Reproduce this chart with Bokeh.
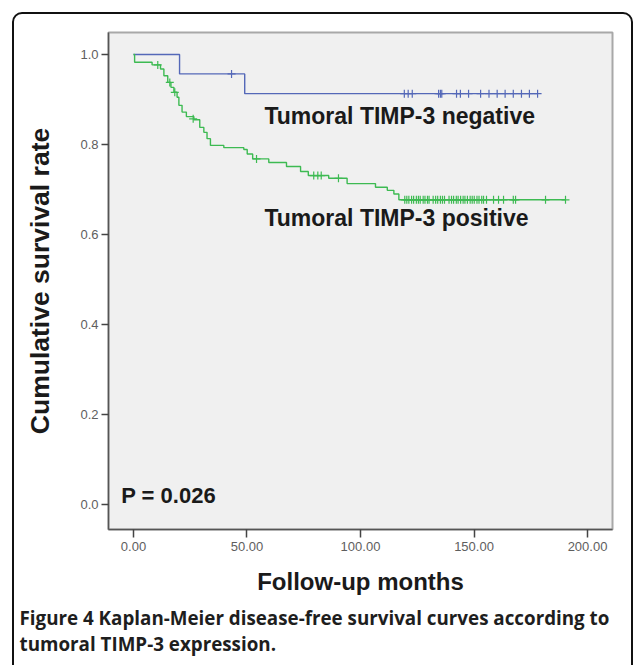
from bokeh.plotting import figure
from bokeh.models import (Label, Title, Range1d, FixedTicker, NumeralTickFormatter,
                          InlineStyleSheet)
from bokeh.embed import file_html
from bokeh.resources import INLINE

# ---------------- data ----------------
neg_times = [0.0, 20.3, 49.0, 178.0]
neg_surv = [1.0, 0.957, 0.913, 0.913]
neg_cens_t = [43.2, 119.3, 121.0, 122.8, 134.4, 135.2, 135.8, 142.3, 144.0, 147.6,
              152.9, 156.6, 160.2, 163.7, 167.3, 170.9, 174.4, 178.0]
neg_cens_s = [0.957] + [0.913] * 17

pos_times = [0.0, 0.5, 8.2, 11.9, 13.4, 15.1, 16.5, 17.8, 19.2, 20.0, 21.4, 23.3, 26.6,
             29.2, 31.0, 32.4, 33.9, 39.8, 48.6, 50.1, 52.5, 59.6, 67.4, 73.6,
             77.0, 86.0, 94.1, 106.6, 111.8, 114.7, 116.9, 190.3]
pos_surv = [1.0, 0.983, 0.977, 0.968, 0.953, 0.938, 0.927, 0.916, 0.905, 0.887, 0.872,
            0.862, 0.855, 0.838, 0.827, 0.813, 0.798, 0.793, 0.789, 0.779, 0.768, 0.760,
            0.751, 0.740, 0.731, 0.725, 0.713, 0.705, 0.698, 0.690, 0.677, 0.677]
pos_cens_t = [10.7, 16.0, 18.2, 26.3, 54.2, 79.4, 81.2, 82.7, 90.3,
              119.5, 120.4, 121.3, 122.5, 123.4, 124.6, 125.5, 126.3, 127.6, 128.4,
              129.5, 130.2, 132.0, 133.1, 134.0, 135.2, 136.1, 137.0, 139.0, 140.1,
              141.0, 142.2, 143.0, 144.1, 145.2, 146.0, 147.1, 148.3, 149.2, 150.1,
              151.3, 152.2, 153.4, 154.2, 155.5, 158.6, 160.8, 163.0, 167.3, 168.3,
              181.5, 190.3]
pos_cens_s = [0.977, 0.938, 0.916, 0.857, 0.768, 0.731, 0.731, 0.731, 0.725] + [0.677] * 42

y_ticks = [0.0, 0.2, 0.4, 0.6, 0.8, 1.0]
x_ticks = [0, 50, 100, 150, 200]

neg_label = "Tumoral TIMP-3 negative"
pos_label = "Tumoral TIMP-3 positive"
p_label = "P = 0.026"
x_title = "Follow-up months"
y_title = "Cumulative survival rate"
caption1 = "Figure 4 Kaplan-Meier disease-free survival curves according to"
caption2 = "tumoral TIMP-3 expression."

BLUE = "#5468b8"
GREEN = "#3dba52"
FONT = "Liberation Sans"

# ---------------- figure ----------------
p = figure(width=633, height=665, output_backend="svg", toolbar_location=None,
           x_range=Range1d(-11, 211), y_range=Range1d(-0.056, 1.049),
           min_border_left=108, min_border_right=21, min_border_top=32,
           min_border_bottom=136)
p.background_fill_color = "#f0f0f0"
p.border_fill_color = "white"
p.outline_line_color = "#a8a8a8"
p.outline_line_width = 2
p.grid.visible = False

for ax in (p.xaxis[0], p.yaxis[0]):
    ax.axis_line_color = "#555555"
    ax.axis_line_width = 1.5
    ax.major_tick_line_color = "#444444"
    ax.major_tick_line_width = 1.5
    ax.major_tick_in = 0
    ax.minor_tick_line_color = None
    ax.major_label_text_font = FONT
    ax.major_label_text_font_size = "13px"
    ax.major_label_text_color = "#5e5e5e"
    ax.axis_label_text_font = FONT
    ax.axis_label_text_font_style = "bold"
    ax.axis_label_text_color = "#1a1a1a"

p.xaxis.ticker = FixedTicker(ticks=x_ticks)
p.xaxis.formatter = NumeralTickFormatter(format="0.00")
p.xaxis.major_tick_out = 8
p.xaxis.major_label_standoff = 4
p.xaxis.axis_label = x_title
p.xaxis.axis_label_text_font_size = "24px"
p.xaxis.axis_label_standoff = 14

p.yaxis.ticker = FixedTicker(ticks=y_ticks)
p.yaxis.formatter = NumeralTickFormatter(format="0.0")
p.yaxis.major_tick_out = 7
p.yaxis.major_label_standoff = 3
p.yaxis.axis_label = y_title
p.yaxis.axis_label_text_font_size = "26.5px"
p.yaxis.axis_label_standoff = 22

# curves
p.step(neg_times, neg_surv, mode="after", line_color=BLUE, line_width=1.4)
p.step(pos_times, pos_surv, mode="after", line_color=GREEN, line_width=1.4)
p.scatter(neg_cens_t, neg_cens_s, marker="cross", size=8, line_color=BLUE, line_width=1.2)
p.scatter(pos_cens_t, pos_cens_s, marker="cross", size=8, line_color=GREEN, line_width=1.2)

# in-plot texts
for txt, xx, yy, fs in [(neg_label, 57.7, 0.8627, "23px"), (pos_label, 57.7, 0.6356, "23px"),
                        (p_label, -5.4, 0.020, "22px")]:
    p.add_layout(Label(x=xx, y=yy, text=txt, text_font=FONT, text_font_style="bold",
                       text_font_size=fs, text_color="#1a1a1a", text_baseline="middle"))

# caption as titles below the x axis
for txt, so in ((caption1, 11), (caption2, -15)):
    p.add_layout(Title(text=txt, align="left", offset=-89, standoff=so,
                       text_font="Open Sans", text_font_style="bold",
                       text_font_size="18.8px", text_color="#1e1e1e"), "below")

# outer rounded border of the figure panel
p.stylesheets = [InlineStyleSheet(css=(
    ":host{position:relative;}"
    ":host::after{content:'';position:absolute;left:12px;top:12px;width:621px;"
    "height:700px;border:2px solid #111;border-radius:10px;box-sizing:border-box;"
    "pointer-events:none;}"))]

open("out.html", "w").write(file_html(p, INLINE))
